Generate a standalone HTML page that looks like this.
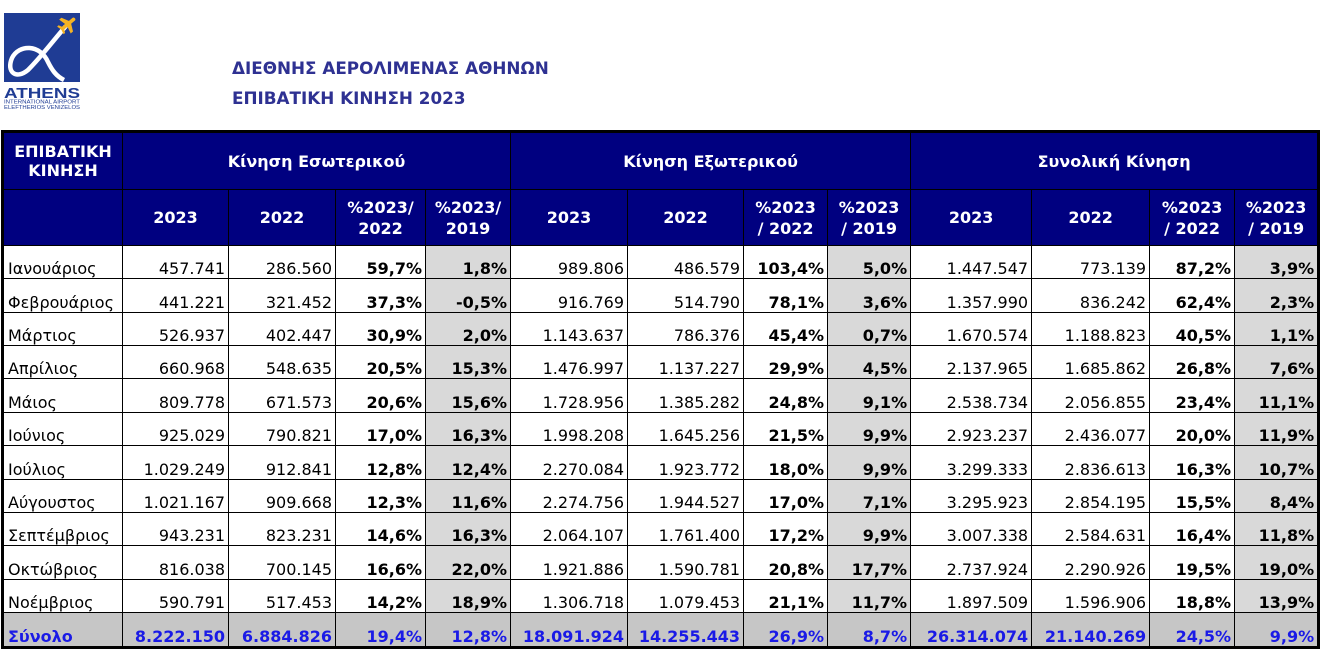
<!DOCTYPE html>
<html>
<head>
<meta charset="utf-8">
<style>
html,body{margin:0;padding:0;}
body{width:1321px;height:650px;background:#fff;position:relative;overflow:hidden;font-family:"DejaVu Sans","Liberation Sans",sans-serif;}
.title{position:absolute;left:232px;font-weight:bold;font-size:16.8px;line-height:20px;color:#2e3192;white-space:nowrap;}
table{position:absolute;left:1px;top:130px;width:1316px;border-collapse:collapse;table-layout:fixed;border:3px solid #000;font-size:16px;}
td,th{border:1px solid #000;white-space:nowrap;overflow:hidden;}
th{background:#000080;color:#fff;font-weight:bold;text-align:center;vertical-align:middle;line-height:21px;padding:0;}
td{text-align:right;vertical-align:bottom;padding:0 3px 0 2px;line-height:19px;color:#000;}
td.m{text-align:left;padding-left:4px;}
td.b{font-weight:bold;}
td.g{background:#d9d9d9;font-weight:bold;}
tr.tot td{background:#c6c6c6;color:#1a1ae6;font-weight:bold;padding-bottom:0;}
tr.d{height:33.36px;}
</style>
</head>
<body>
<svg style="position:absolute;left:0;top:0" width="100" height="115" viewBox="0 0 100 115">
  <rect x="4" y="13" width="76" height="69" fill="#1f3c94"/>
  <path d="M 66 26 C 52 42, 42 56, 28 70 C 16 80, 6 72, 12 58 C 19 44, 40 44, 48 62 C 52 70, 56 76, 64 80" fill="none" stroke="#fff" stroke-width="4.5"/>
  <g transform="translate(68,24) rotate(-40)" fill="#f5b324">
    <rect x="-9" y="-1.8" width="18" height="3.6" rx="1.8"/>
    <polygon points="-2,-1 3,-1 -1,-9 -4,-9"/>
    <polygon points="-2,1 3,1 -1,9 -4,9"/>
    <polygon points="-9,-1 -6,-1 -8,-5 -10,-5"/>
    <polygon points="-9,1 -6,1 -8,5 -10,5"/>
  </g>
  <text x="4" y="98" font-family="Liberation Sans, sans-serif" font-weight="bold" font-size="15" fill="#1f3c94" textLength="76" lengthAdjust="spacingAndGlyphs">ATHENS</text>
  <text x="4" y="103.5" font-family="Liberation Sans, sans-serif" font-size="5" fill="#1f3c94" textLength="76" lengthAdjust="spacingAndGlyphs">INTERNATIONAL AIRPORT</text>
  <text x="4" y="109" font-family="Liberation Sans, sans-serif" font-size="5" fill="#1f3c94" textLength="76" lengthAdjust="spacingAndGlyphs">ELEFTHERIOS VENIZELOS</text>
</svg>
<div class="title" style="top:58px;">ΔΙΕΘΝΗΣ ΑΕΡΟΛΙΜΕΝΑΣ ΑΘΗΝΩΝ</div>
<div class="title" style="top:88px;">ΕΠΙΒΑΤΙΚΗ ΚΙΝΗΣΗ 2023</div>

<table>
<colgroup>
<col style="width:120px"><col style="width:106px"><col style="width:107px"><col style="width:90px"><col style="width:85px">
<col style="width:117px"><col style="width:116px"><col style="width:84px"><col style="width:83px">
<col style="width:121px"><col style="width:118px"><col style="width:85px"><col style="width:84px">
</colgroup>
<tr style="height:58px;">
<th style="line-height:19px;">ΕΠΙΒΑΤΙΚΗ<br>ΚΙΝΗΣΗ</th>
<th colspan="4">Κίνηση Εσωτερικού</th>
<th colspan="4">Κίνηση Εξωτερικού</th>
<th colspan="4">Συνολική Κίνηση</th>
</tr>
<tr style="height:56px;">
<th></th>
<th>2023</th><th>2022</th><th>%2023/<br>2022</th><th>%2023/<br>2019</th>
<th>2023</th><th>2022</th><th>%2023<br>/ 2022</th><th>%2023<br>/ 2019</th>
<th>2023</th><th>2022</th><th>%2023<br>/ 2022</th><th>%2023<br>/ 2019</th>
</tr>
<tr class="d"><td class="m">Ιανουάριος</td><td>457.741</td><td>286.560</td><td class="b">59,7%</td><td class="g">1,8%</td><td>989.806</td><td>486.579</td><td class="b">103,4%</td><td class="g">5,0%</td><td>1.447.547</td><td>773.139</td><td class="b">87,2%</td><td class="g">3,9%</td></tr>
<tr class="d"><td class="m">Φεβρουάριος</td><td>441.221</td><td>321.452</td><td class="b">37,3%</td><td class="g">-0,5%</td><td>916.769</td><td>514.790</td><td class="b">78,1%</td><td class="g">3,6%</td><td>1.357.990</td><td>836.242</td><td class="b">62,4%</td><td class="g">2,3%</td></tr>
<tr class="d"><td class="m">Μάρτιος</td><td>526.937</td><td>402.447</td><td class="b">30,9%</td><td class="g">2,0%</td><td>1.143.637</td><td>786.376</td><td class="b">45,4%</td><td class="g">0,7%</td><td>1.670.574</td><td>1.188.823</td><td class="b">40,5%</td><td class="g">1,1%</td></tr>
<tr class="d"><td class="m">Απρίλιος</td><td>660.968</td><td>548.635</td><td class="b">20,5%</td><td class="g">15,3%</td><td>1.476.997</td><td>1.137.227</td><td class="b">29,9%</td><td class="g">4,5%</td><td>2.137.965</td><td>1.685.862</td><td class="b">26,8%</td><td class="g">7,6%</td></tr>
<tr class="d"><td class="m">Μάιος</td><td>809.778</td><td>671.573</td><td class="b">20,6%</td><td class="g">15,6%</td><td>1.728.956</td><td>1.385.282</td><td class="b">24,8%</td><td class="g">9,1%</td><td>2.538.734</td><td>2.056.855</td><td class="b">23,4%</td><td class="g">11,1%</td></tr>
<tr class="d"><td class="m">Ιούνιος</td><td>925.029</td><td>790.821</td><td class="b">17,0%</td><td class="g">16,3%</td><td>1.998.208</td><td>1.645.256</td><td class="b">21,5%</td><td class="g">9,9%</td><td>2.923.237</td><td>2.436.077</td><td class="b">20,0%</td><td class="g">11,9%</td></tr>
<tr class="d"><td class="m">Ιούλιος</td><td>1.029.249</td><td>912.841</td><td class="b">12,8%</td><td class="g">12,4%</td><td>2.270.084</td><td>1.923.772</td><td class="b">18,0%</td><td class="g">9,9%</td><td>3.299.333</td><td>2.836.613</td><td class="b">16,3%</td><td class="g">10,7%</td></tr>
<tr class="d"><td class="m">Αύγουστος</td><td>1.021.167</td><td>909.668</td><td class="b">12,3%</td><td class="g">11,6%</td><td>2.274.756</td><td>1.944.527</td><td class="b">17,0%</td><td class="g">7,1%</td><td>3.295.923</td><td>2.854.195</td><td class="b">15,5%</td><td class="g">8,4%</td></tr>
<tr class="d"><td class="m">Σεπτέμβριος</td><td>943.231</td><td>823.231</td><td class="b">14,6%</td><td class="g">16,3%</td><td>2.064.107</td><td>1.761.400</td><td class="b">17,2%</td><td class="g">9,9%</td><td>3.007.338</td><td>2.584.631</td><td class="b">16,4%</td><td class="g">11,8%</td></tr>
<tr class="d"><td class="m">Οκτώβριος</td><td>816.038</td><td>700.145</td><td class="b">16,6%</td><td class="g">22,0%</td><td>1.921.886</td><td>1.590.781</td><td class="b">20,8%</td><td class="g">17,7%</td><td>2.737.924</td><td>2.290.926</td><td class="b">19,5%</td><td class="g">19,0%</td></tr>
<tr class="d"><td class="m">Νοέμβριος</td><td>590.791</td><td>517.453</td><td class="b">14,2%</td><td class="g">18,9%</td><td>1.306.718</td><td>1.079.453</td><td class="b">21,1%</td><td class="g">11,7%</td><td>1.897.509</td><td>1.596.906</td><td class="b">18,8%</td><td class="g">13,9%</td></tr>
<tr class="tot" style="height:35px;"><td class="m">Σύνολο</td><td>8.222.150</td><td>6.884.826</td><td>19,4%</td><td>12,8%</td><td>18.091.924</td><td>14.255.443</td><td>26,9%</td><td>8,7%</td><td>26.314.074</td><td>21.140.269</td><td>24,5%</td><td>9,9%</td></tr>
</table>
</body>
</html>
